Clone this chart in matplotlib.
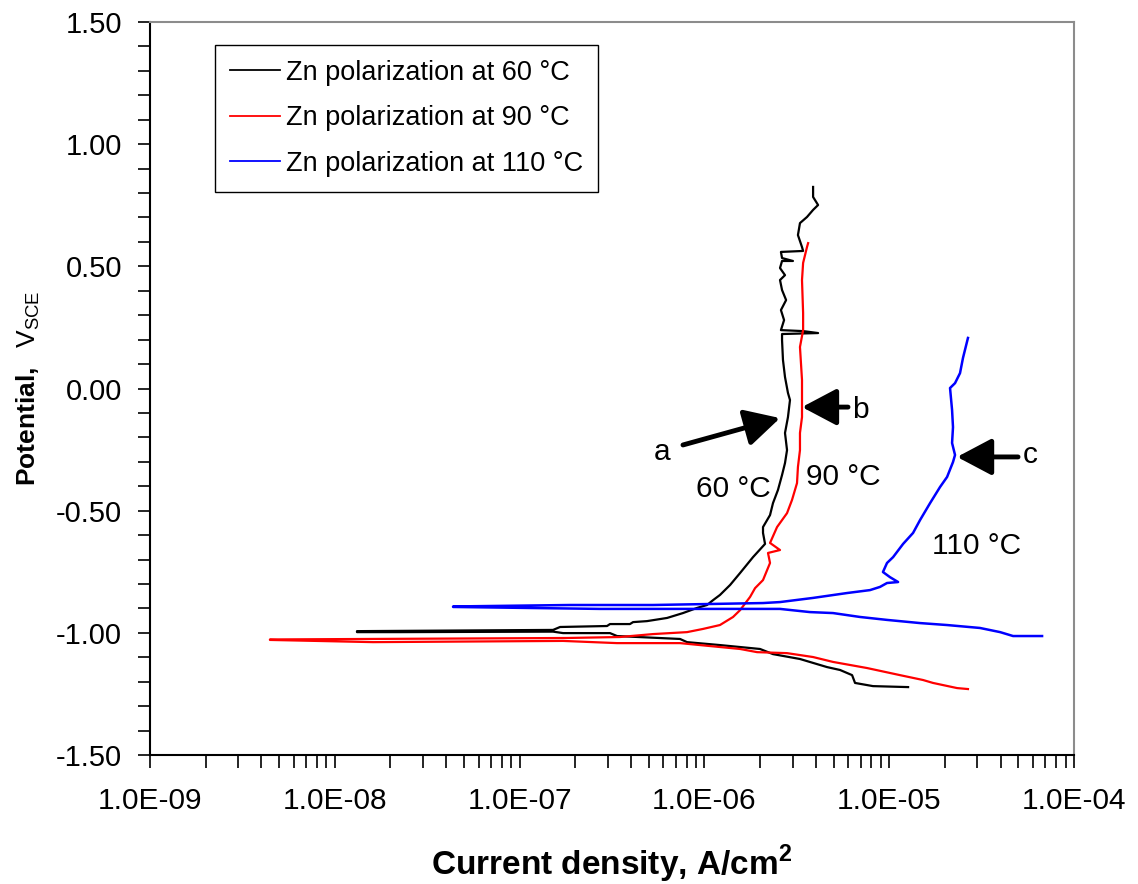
import numpy as np
import matplotlib
matplotlib.use("Agg")
import matplotlib.pyplot as plt
from matplotlib.ticker import MultipleLocator, FixedLocator, FuncFormatter, NullFormatter

plt.rcParams['font.family'] = ['Liberation Sans', 'DejaVu Sans']
plt.rcParams['mathtext.fontset'] = 'custom'
plt.rcParams['mathtext.rm'] = 'Liberation Sans'
plt.rcParams['mathtext.bf'] = 'Liberation Sans:bold'

# log10 of current density (A/cm2) and potential (V vs SCE)
black_logi = [-4.898, -5.088, -5.185, -5.201, -5.266, -5.337, -5.483, -5.629, -5.699, -5.916,
              -6.094, -6.132, -6.473, -6.511, -6.765, -6.819, -7.647, -7.880,
              -7.880, -6.819, -6.781, -6.527, -6.511, -6.403, -6.386, -6.311, -6.202, -6.116,
              -6.040, -5.986, -5.953, -5.916, -5.861, -5.807, -5.737, -5.672, -5.683, -5.683,
              -5.645, -5.629, -5.602, -5.580, -5.564, -5.553, -5.564, -5.548, -5.537, -5.548,
              -5.564, -5.575, -5.580, -5.580, -5.385, -5.466, -5.586, -5.569, -5.586, -5.558,
              -5.580, -5.591, -5.564, -5.591, -5.580, -5.521, -5.580, -5.586, -5.466, -5.472,
              -5.494, -5.483, -5.445, -5.412, -5.385, -5.412, -5.412]
black_v = [-1.222, -1.218, -1.205, -1.173, -1.152, -1.140, -1.107, -1.087, -1.066, -1.050,
           -1.038, -1.025, -1.013, -1.001, -1.001, -0.995, -0.997, -0.997,
           -0.993, -0.988, -0.976, -0.972, -0.964, -0.964, -0.956, -0.952, -0.939, -0.919,
           -0.898, -0.886, -0.866, -0.845, -0.804, -0.755, -0.690, -0.636, -0.591, -0.567,
           -0.518, -0.469, -0.415, -0.354, -0.305, -0.252, -0.182, -0.117, -0.047, -0.018,
           0.047, 0.117, 0.198, 0.223, 0.227, 0.235, 0.239, 0.280, 0.321, 0.362,
           0.403, 0.444, 0.464, 0.493, 0.522, 0.522, 0.534, 0.559, 0.563, 0.579,
           0.628, 0.677, 0.702, 0.731, 0.751, 0.784, 0.825]

red_logi = [-4.574, -4.633, -4.763, -4.817, -4.942, -5.120, -5.304, -5.412, -5.553, -5.715,
            -5.807, -5.970, -6.132, -6.473, -6.765, -7.793, -8.351,
            -8.351, -6.744, -6.457, -6.278, -6.094, -6.008, -5.916, -5.845, -5.807, -5.753,
            -5.726, -5.683, -5.645, -5.656, -5.591, -5.645, -5.607, -5.553, -5.526, -5.499,
            -5.494, -5.483, -5.483, -5.472, -5.472, -5.472, -5.483, -5.466, -5.466, -5.472,
            -5.466, -5.445, -5.439]
red_v = [-1.230, -1.226, -1.205, -1.193, -1.173, -1.144, -1.119, -1.099, -1.083, -1.079,
         -1.066, -1.054, -1.042, -1.042, -1.033, -1.038, -1.029,
         -1.027, -1.021, -1.017, -1.005, -0.997, -0.984, -0.968, -0.935, -0.907, -0.853,
         -0.817, -0.784, -0.714, -0.673, -0.661, -0.632, -0.567, -0.510, -0.456, -0.387,
         -0.321, -0.252, -0.182, -0.117, -0.047, 0.035, 0.170, 0.239, 0.309, 0.444,
         0.514, 0.579, 0.595]

blue_logi = [-4.173, -4.330, -4.400, -4.509, -4.687, -4.833, -5.012, -5.158, -5.304, -5.429,
             -5.591, -6.278, -6.565, -7.360,
             -7.360, -6.727, -6.278, -5.683, -5.591, -5.412, -5.228, -5.104, -5.050, -5.012,
             -4.952, -4.996, -5.034, -5.012, -4.979, -4.925, -4.871, -4.833, -4.779, -4.725,
             -4.687, -4.655, -4.644, -4.660, -4.655, -4.660, -4.671, -4.644, -4.617, -4.601,
             -4.574]
blue_v = [-1.013, -1.013, -0.997, -0.980, -0.968, -0.960, -0.947, -0.935, -0.919, -0.915,
          -0.902, -0.902, -0.902, -0.894,
          -0.892, -0.886, -0.886, -0.878, -0.874, -0.857, -0.837, -0.825, -0.812, -0.796,
          -0.792, -0.772, -0.751, -0.714, -0.690, -0.636, -0.591, -0.538, -0.469, -0.403,
          -0.362, -0.301, -0.272, -0.223, -0.158, -0.088, 0.002, 0.022, 0.063, 0.125,
          0.207]

series = [
    ('Zn polarization at 60 °C', black_logi, black_v, 'black', 1.6),
    ('Zn polarization at 90 °C', red_logi, red_v, '#ff0000', 1.6),
    ('Zn polarization at 110 °C', blue_logi, blue_v, '#0000ff', 1.8),
]

decades = [1e-9, 1e-8, 1e-7, 1e-6, 1e-5, 1e-4]

fig = plt.figure(figsize=(11.38, 8.84), dpi=100)
ax = fig.add_axes([0.1318, 0.1459, 0.812, 0.8292])

for label, logi, v, col, lw in series:
    ax.plot(10 ** np.array(logi), v, color=col, lw=lw, label=label)

ax.set_xscale('log')
ax.set_xlim(1e-9, 1e-4)
ax.set_ylim(-1.5, 1.5)

ax.yaxis.set_major_locator(MultipleLocator(0.5))
ax.yaxis.set_minor_locator(MultipleLocator(0.1))
ax.yaxis.set_major_formatter(FuncFormatter(lambda y, _: '%.2f' % y))
ax.xaxis.set_major_locator(FixedLocator(decades))
ax.xaxis.set_minor_locator(FixedLocator([d * k for d in decades[:-1] for k in range(2, 10)]))
ax.xaxis.set_minor_formatter(NullFormatter())
ax.xaxis.set_major_formatter(FuncFormatter(lambda x, _: '%.1E' % x))

ax.tick_params(axis='both', which='both', direction='out', length=9, width=1.2, colors='black')
ax.tick_params(axis='y', which='major', labelsize=21, pad=11)
ax.tick_params(axis='x', which='major', labelsize=21.5, pad=14)

for side in ['left', 'bottom']:
    ax.spines[side].set_color('black')
    ax.spines[side].set_linewidth(1.5)
for side in ['top', 'right']:
    ax.spines[side].set_color('#8c8c8c')
    ax.spines[side].set_linewidth(1.5)

ax.set_xlabel(r'Current density, A/cm$^\mathbf{2}$', fontsize=24, fontweight='bold', labelpad=20)
ax.set_ylabel(r'$\mathbf{Potential,}$  V$_{\mathregular{SCE}}$', fontsize=19, labelpad=10)

leg = ax.legend(loc='upper left', bbox_to_anchor=(0.070, 0.969), fontsize=19.5, frameon=True,
                fancybox=False, edgecolor='black', framealpha=1, borderaxespad=0,
                handlelength=1.85, handletextpad=0.25, labelspacing=0.72, borderpad=0.55)
leg.get_frame().set_linewidth(1.0)
for ln in leg.get_lines():
    ln.set_linewidth(1.3)

arrow = dict(arrowstyle='-|>,head_length=0.85,head_width=0.45', lw=3.5, color='black',
             mutation_scale=25, shrinkA=0, shrinkB=0)
ax.annotate('', xy=(10 ** -5.591, -0.121), xytext=(10 ** -6.116, -0.231), arrowprops=arrow)
ax.annotate('', xy=(10 ** -5.472, -0.076), xytext=(10 ** -5.223, -0.076), arrowprops=arrow)
ax.annotate('', xy=(10 ** -4.633, -0.280), xytext=(10 ** -4.303, -0.280), arrowprops=arrow)

txt = dict(fontsize=21.5, ha='center', va='center')
ax.text(10 ** -6.229, -0.26, 'a', **txt)
ax.text(10 ** -5.158, -0.088, 'b', **txt)
ax.text(10 ** -4.238, -0.272, 'c', **txt)
ax.text(10 ** -5.845, -0.411, '60 °C', **txt)
ax.text(10 ** -5.250, -0.362, '90 °C', **txt)
ax.text(10 ** -4.525, -0.645, '110 °C', **txt)

fig.savefig('out.png', dpi=100)
